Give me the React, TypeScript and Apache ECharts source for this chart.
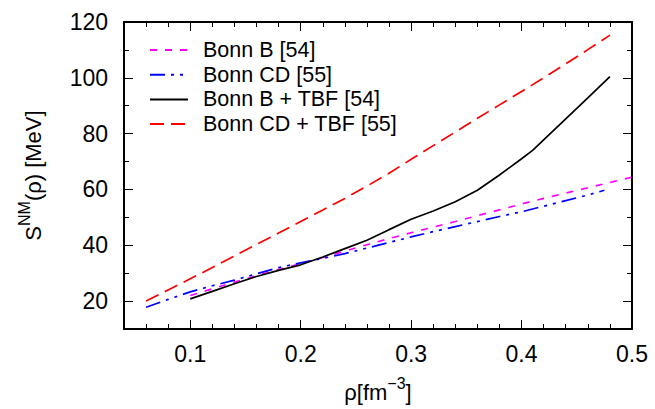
import React, { useEffect, useRef } from "react";
import * as echarts from "echarts";

const seriesNames = ["Bonn B [54]", "Bonn CD [55]", "Bonn B + TBF [54]", "Bonn CD + TBF [55]"];

const bonnBX = [0.10, 0.12, 0.14, 0.16, 0.18, 0.20, 0.22, 0.24, 0.26, 0.28, 0.30, 0.32, 0.34, 0.36, 0.38, 0.40, 0.42, 0.44, 0.46, 0.48, 0.50];
const bonnBY = [22.0, 24.4, 26.8, 29.1, 31.3, 33.4, 35.6, 37.9, 40.2, 42.4, 44.5, 46.5, 48.5, 50.6, 52.7, 54.8, 56.8, 58.7, 60.6, 62.5, 64.4];

const bonnCDX = [0.06, 0.08, 0.10, 0.12, 0.14, 0.16, 0.18, 0.20, 0.22, 0.24, 0.26, 0.28, 0.30, 0.32, 0.34, 0.36, 0.38, 0.40, 0.42, 0.44, 0.46, 0.475];
const bonnCDY = [17.8, 20.6, 23.3, 25.5, 27.5, 29.8, 32.0, 33.7, 35.3, 37.0, 39.0, 41.0, 43.0, 44.9, 46.7, 48.5, 50.3, 52.0, 54.0, 56.0, 58.0, 59.7];

const bonnBTBFX = [0.10, 0.12, 0.14, 0.16, 0.18, 0.20, 0.22, 0.24, 0.26, 0.28, 0.30, 0.32, 0.34, 0.36, 0.38, 0.40, 0.41, 0.42, 0.44, 0.46, 0.48];
const bonnBTBFY = [20.8, 23.5, 26.2, 28.8, 31.0, 33.0, 35.8, 38.8, 41.8, 45.6, 49.3, 52.3, 55.6, 59.7, 65.2, 71.0, 74.0, 77.8, 85.3, 92.8, 100.4];

const bonnCDTBFX = [0.06, 0.08, 0.10, 0.12, 0.14, 0.16, 0.18, 0.20, 0.22, 0.24, 0.26, 0.28, 0.30, 0.32, 0.34, 0.36, 0.38, 0.40, 0.42, 0.44, 0.46, 0.48];
const bonnCDTBFY = [20.0, 24.0, 28.0, 32.0, 36.2, 40.3, 44.4, 48.5, 52.6, 56.8, 61.2, 65.8, 70.8, 75.7, 80.6, 85.5, 90.3, 95.1, 100.0, 105.0, 110.1, 115.3];

const xTickLabels = [0.1, 0.2, 0.3, 0.4, 0.5];
const yTickLabels = [20, 40, 60, 80, 100, 120];

const FONT = "'Liberation Sans', Arial, Helvetica, sans-serif";

function pairs(xs: number[], ys: number[]) {
  return xs.map((x, i) => [x, ys[i]]);
}

const nameRich = {
  n: { fontSize: 22, color: "#000", fontFamily: FONT, verticalAlign: "bottom" },
  sup: { fontSize: 16, color: "#000", fontFamily: FONT, verticalAlign: "bottom", padding: [0, 0, 12, 0] },
};

export default function App() {
  const ref = useRef<HTMLDivElement>(null);

  useEffect(() => {
    if (!ref.current) return;
    const chart = echarts.init(ref.current, undefined, { renderer: "svg" });

    const xBase = { type: "value", min: 0.04, max: 0.5, interval: 0.02, splitLine: { show: false } };
    const yBase = { type: "value", min: 10, max: 120, interval: 10, splitLine: { show: false } };
    const lineAx = { show: true, lineStyle: { color: "#000", width: 2 } };
    const minorTick = { show: true, inside: true, length: 5, lineStyle: { color: "#000", width: 1 } };

    const option: any = {
      animation: false,
      backgroundColor: "#fff",
      textStyle: { fontFamily: FONT },
      grid: { left: 124, right: 23, top: 22, bottom: 80, containLabel: false },
      legend: {
        orient: "vertical",
        left: 149,
        top: 39,
        padding: 0,
        itemWidth: 38,
        itemHeight: 14,
        itemGap: 2.7,
        data: seriesNames,
        itemStyle: { opacity: 0 },
        textStyle: { fontSize: 21.5, color: "#000", fontFamily: FONT, padding: [0, 0, 0, 10] },
      },
      xAxis: [
        {
          ...xBase,
          position: "bottom",
          axisLine: lineAx,
          axisTick: minorTick,
          axisLabel: {
            customValues: xTickLabels,
            formatter: (v: number) => v.toFixed(1),
            fontSize: 23,
            color: "#000",
            margin: 13,
            fontFamily: FONT,
          },
          name: "{n|ρ[fm}{sup|−3}{n|]}",
          nameLocation: "middle",
          nameGap: 46,
          nameTextStyle: { fontSize: 22, color: "#000", fontFamily: FONT, rich: nameRich },
        },
        {
          ...xBase,
          position: "bottom",
          axisLine: { show: false },
          axisTick: { ...minorTick, length: 9, customValues: xTickLabels },
          axisLabel: { show: false },
        },
        {
          ...xBase,
          position: "top",
          axisLine: lineAx,
          axisTick: minorTick,
          axisLabel: { show: false },
        },
        {
          ...xBase,
          position: "top",
          axisLine: { show: false },
          axisTick: { ...minorTick, length: 9, customValues: xTickLabels },
          axisLabel: { show: false },
        },
      ],
      yAxis: [
        {
          ...yBase,
          position: "left",
          axisLine: lineAx,
          axisTick: minorTick,
          axisLabel: {
            customValues: yTickLabels,
            fontSize: 23,
            color: "#000",
            margin: 16,
            fontFamily: FONT,
          },
          name: "{n|S}{sup|NM}{n|(ρ) [MeV]}",
          nameLocation: "middle",
          nameGap: 80,
          nameTextStyle: { fontSize: 22, color: "#000", fontFamily: FONT, rich: nameRich },
        },
        {
          ...yBase,
          position: "left",
          axisLine: { show: false },
          axisTick: { ...minorTick, length: 9, customValues: yTickLabels },
          axisLabel: { show: false },
        },
        {
          ...yBase,
          position: "right",
          axisLine: lineAx,
          axisTick: minorTick,
          axisLabel: { show: false },
        },
        {
          ...yBase,
          position: "right",
          axisLine: { show: false },
          axisTick: { ...minorTick, length: 9, customValues: yTickLabels },
          axisLabel: { show: false },
        },
      ],
      series: [
        {
          name: seriesNames[0],
          type: "line",
          data: pairs(bonnBX, bonnBY),
          symbol: "none",
          clip: true,
          lineStyle: { color: "#ff00ff", width: 1.7, type: [7, 8] },
          itemStyle: { color: "#ff00ff" },
        },
        {
          name: seriesNames[1],
          type: "line",
          data: pairs(bonnCDX, bonnCDY),
          symbol: "none",
          lineStyle: { color: "#0000ff", width: 1.7, type: [15, 6, 3, 6, 3, 6] },
          itemStyle: { color: "#0000ff" },
        },
        {
          name: seriesNames[2],
          type: "line",
          data: pairs(bonnBTBFX, bonnBTBFY),
          symbol: "none",
          lineStyle: { color: "#000000", width: 1.7, type: "solid" },
          itemStyle: { color: "#000000" },
        },
        {
          name: seriesNames[3],
          type: "line",
          data: pairs(bonnCDTBFX, bonnCDTBFY),
          symbol: "none",
          lineStyle: { color: "#ff0000", width: 1.7, type: [14, 7] },
          itemStyle: { color: "#ff0000" },
        },
      ],
    };

    chart.setOption(option);
    return () => chart.dispose();
  }, []);

  return (
    <div
      ref={ref}
      style={{ position: "fixed", left: 0, top: 0, width: 655, height: 409, background: "#fff" }}
    />
  );
}
